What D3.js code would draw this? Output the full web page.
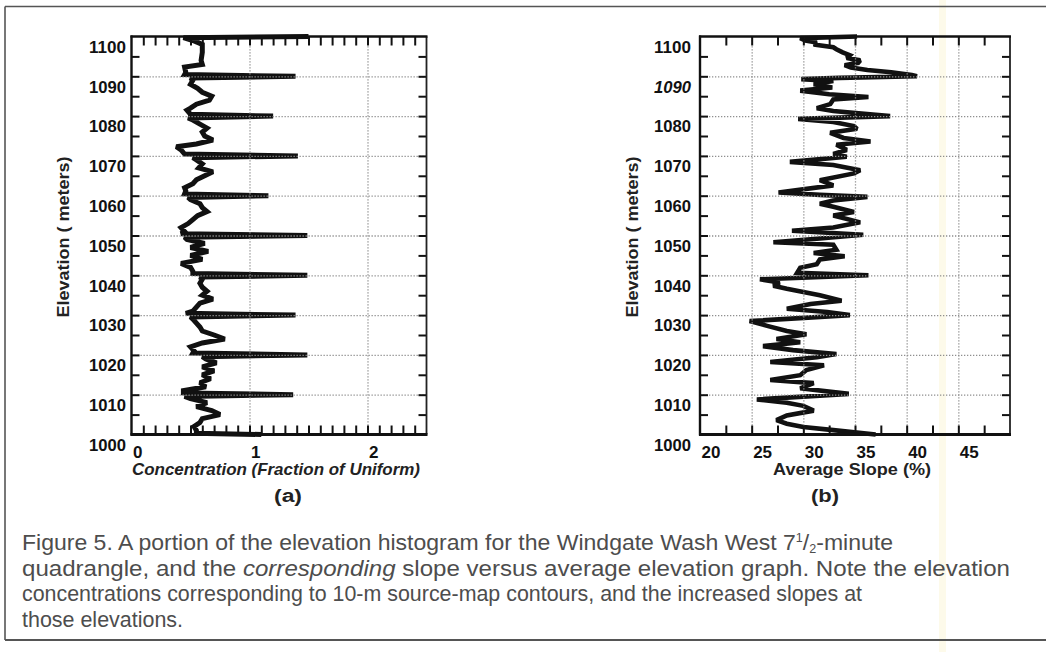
<!DOCTYPE html>
<html><head><meta charset="utf-8">
<script src="https://cdn.jsdelivr.net/npm/d3@7"></script>
<style>
body{margin:0;background:#fff;}
svg{display:block;font-family:"Liberation Sans",Arial,sans-serif;}
</style></head><body>
<svg id="c" width="1046" height="652"></svg>
<script>
// ---------- data ----------
const concElev = [1100,1099.7,1099,1098,1096,1094,1093,1092.3,1091,1090.45,1090,1089.55,1089,1088,1087,1086,1085,1084,1083,1082,1081.5,1080.45,1080,1079.55,1079,1078,1077,1076,1075,1074,1073,1072.3,1071.5,1070.45,1070,1069.55,1069,1068,1067,1066,1065,1064,1063,1062,1061.2,1060.45,1060,1059.55,1059,1058,1057,1056,1055,1054,1053,1052,1051,1050.45,1050,1049.55,1049,1048,1047,1046,1045,1044,1043,1042,1041,1040.45,1040,1039.55,1039,1038,1037,1036,1035,1034,1033,1032,1031,1030.45,1030,1029.55,1029,1028,1027,1026,1025,1024,1023,1022,1021,1020.45,1020,1019.55,1019,1018,1017,1016,1015,1014,1013,1012,1011,1010.45,1010,1009.55,1009,1008,1007,1006,1005,1004,1003,1002,1001,1000.3,1000];
const concVal  = [1.5,0.44,0.52,0.6,0.6,0.59,0.6,0.45,0.46,0.45,1.39,0.5,0.52,0.5,0.56,0.6,0.68,0.66,0.55,0.5,0.47,0.5,1.2,0.48,0.52,0.58,0.64,0.6,0.62,0.69,0.55,0.38,0.42,0.45,1.41,0.52,0.55,0.6,0.57,0.69,0.62,0.55,0.52,0.45,0.46,0.45,1.16,0.48,0.5,0.58,0.6,0.64,0.56,0.52,0.48,0.42,0.45,0.42,1.49,0.45,0.47,0.62,0.5,0.65,0.5,0.6,0.42,0.5,0.52,0.52,1.49,0.58,0.6,0.58,0.6,0.64,0.6,0.69,0.58,0.55,0.52,0.46,1.39,0.5,0.52,0.55,0.58,0.6,0.7,0.79,0.6,0.5,0.53,0.52,1.49,0.6,0.63,0.72,0.6,0.7,0.6,0.67,0.58,0.63,0.44,0.44,1.37,0.45,0.5,0.64,0.55,0.68,0.75,0.6,0.58,0.53,0.55,0.55,1.1];

const slopeElev = [1100,1099.6,1099,1098.5,1098,1097.3,1096.8,1096,1095.3,1094.6,1094,1093.4,1092.8,1092.2,1091.6,1091,1090.3,1090,1089.6,1089.3,1088.8,1088,1087.2,1086.4,1085.5,1084.8,1084.2,1083,1082,1081.3,1080.3,1080,1079.3,1078.5,1077.5,1076.8,1075.8,1074.5,1073.6,1072.8,1071.5,1070.5,1069.8,1068.5,1067.7,1066.4,1065.6,1063.9,1062.6,1060.8,1060.2,1059.7,1058.8,1058,1057.2,1055.9,1055,1053.3,1052,1051.2,1050.2,1049.2,1048.3,1047.7,1046.4,1045.6,1044.8,1044,1042.8,1041.9,1040.6,1040,1039,1038.2,1037.4,1036.6,1035.8,1035,1033.6,1032.8,1031.6,1030.8,1030,1028.5,1027.3,1026,1025.2,1024,1023.2,1022.2,1021.2,1020.2,1019.4,1018.2,1017.4,1016.2,1014.9,1013.7,1012.9,1011.6,1010.2,1008.8,1008,1007.2,1006,1004.8,1003.6,1002.7,1001.9,1001.1,1000];
const slopeVal  = [35.2,29.7,30.2,31.3,31.0,32.9,33.2,33.8,34.5,34.2,35.5,35.3,34.0,34.6,36.2,38.5,40.5,41.0,33.5,29.8,32.9,31.0,32.8,29.7,32.5,36.3,32.9,32.6,31.3,32.9,37.0,38.4,29.5,32.9,34.9,35.2,32.6,33.9,36.5,33.2,34.2,32.9,34.2,28.7,32.9,35.5,34.9,31.6,32.9,27.6,31.6,36.2,32.9,31.6,32.9,34.9,32.9,35.5,32.9,28.9,35.8,31.3,27.1,32.9,33.2,31.0,34.0,31.6,31.3,29.7,29.4,36.3,25.8,27.7,27.1,28.4,30.0,31.6,33.7,30.7,28.4,32.3,34.5,24.8,26.5,28.4,30.3,27.4,29.7,26.1,29.0,33.2,31.3,26.8,32.0,30.3,29.7,26.8,31.0,29.7,34.4,25.5,28.4,30.0,31.0,28.4,27.4,28.4,30.0,32.9,37.0];

const elevLabels = [1000,1010,1020,1030,1040,1050,1060,1070,1080,1090,1100];
const elevGrid = [1010,1020,1030,1040,1050,1060,1070,1080,1090];
const concLabels = [0,1,2];
const concGrid = [1,2];
const slopeLabels = [20,25,30,35,40,45];
const slopeGrid = [25,30,35,40,45];

const captionLines = [
  "Figure 5. A portion of the elevation histogram for the Windgate Wash West 7",
  "quadrangle, and the corresponding slope versus average elevation graph. Note the elevation",
  "concentrations corresponding to 10-m source-map contours, and the increased slopes at",
  "those elevations."
];

// ---------- drawing ----------
const svg = d3.select("#c");
svg.append("rect").attr("width",1046).attr("height",652).attr("fill","#fff");
// faint scan artifact strip
svg.append("rect").attr("x",939).attr("y",0).attr("width",7).attr("height",652).attr("fill","#fdfaea");

// frame
const fr = svg.append("g").attr("stroke","#555").attr("stroke-width",1.6).attr("fill","none");
fr.append("line").attr("x1",5).attr("x2",1046).attr("y1",6.5).attr("y2",6.5);
fr.append("line").attr("x1",5).attr("x2",5).attr("y1",6.5).attr("y2",640);
fr.append("line").attr("x1",5).attr("x2",1046).attr("y1",640).attr("y2",640).attr("stroke-width",2);

const Y0 = 434.5, Y1 = 36.5;
const y = d3.scaleLinear([1000,1100],[Y0,Y1]);
const FONT = "'Liberation Sans',Arial,sans-serif";

function panel(cfg){
  const g = svg.append("g");
  const x = d3.scaleLinear(cfg.domain,[cfg.x0,cfg.x1]);
  const W = cfg.x1-cfg.x0, H = Y0-Y1;
  const cid = "clip"+cfg.id;
  g.append("clipPath").attr("id",cid).append("rect")
    .attr("x",cfg.x0).attr("y",Y1-3).attr("width",W).attr("height",H+6);

  // data line
  const data = cfg.elev.map((e,i)=>[e,cfg.vals[i]]);
  g.append("path").datum(data).attr("clip-path",`url(#${cid})`)
    .attr("fill","none").attr("stroke","#111").attr("stroke-width",cfg.lw)
    .attr("stroke-linejoin","miter").attr("stroke-miterlimit",2)
    .attr("d",d3.line().x(d=>x(d[1])).y(d=>y(d[0])));

  // grid (dotted)
  const gx = g.append("g").attr("transform",`translate(0,${Y0})`)
    .call(d3.axisBottom(x).tickValues(cfg.grid).tickSize(-H).tickFormat(""));
  const gy = g.append("g").attr("transform",`translate(${cfg.x0},0)`)
    .call(d3.axisLeft(y).tickValues(elevGrid).tickSize(-W).tickFormat(""));
  [gx,gy].forEach(s=>{
    s.select(".domain").remove();
    s.selectAll("line").attr("stroke","#8f8f8f").attr("stroke-width",1.3).attr("stroke-dasharray","1.3,1.7");
  });

  // minor ticks
  const tk = (sel)=>{sel.select(".domain").remove(); sel.selectAll("line").attr("stroke","#111").attr("stroke-width",2);};
  g.append("g").attr("transform",`translate(0,${Y0})`)
    .call(d3.axisBottom(x).tickValues(cfg.minor).tickSize(-9).tickFormat("")).call(tk);
  g.append("g").attr("transform",`translate(0,${Y1})`)
    .call(d3.axisTop(x).tickValues(cfg.minor).tickSize(-9).tickFormat("")).call(tk);
  const yMinor = d3.range(1005,1100,5);
  g.append("g").attr("transform",`translate(${cfg.x0},0)`)
    .call(d3.axisLeft(y).tickValues(yMinor).tickSize(-8).tickFormat("")).call(tk);
  g.append("g").attr("transform",`translate(${cfg.x1},0)`)
    .call(d3.axisRight(y).tickValues(yMinor).tickSize(-8).tickFormat("")).call(tk);

  // frame
  g.append("line").attr("x1",cfg.x1).attr("x2",cfg.x1).attr("y1",Y1).attr("y2",Y0).attr("stroke","#222").attr("stroke-width",1.8);
  g.append("line").attr("x1",cfg.x0).attr("x2",cfg.x0).attr("y1",Y1-1).attr("y2",Y0+1).attr("stroke","#111").attr("stroke-width",2.4);
  g.append("line").attr("x1",cfg.x0-1).attr("x2",cfg.x1+1).attr("y1",Y1).attr("y2",Y1).attr("stroke","#111").attr("stroke-width",2.6);
  g.append("line").attr("x1",cfg.x0-1).attr("x2",cfg.x1+1).attr("y1",Y0).attr("y2",Y0).attr("stroke","#111").attr("stroke-width",2.8);

  // y labels
  const yl = g.append("g").attr("transform",`translate(${cfg.x0},0)`)
    .call(d3.axisLeft(y).tickValues(elevLabels).tickSize(0).tickPadding(cfg.ypad).tickFormat(d3.format("d")));
  yl.select(".domain").remove();
  yl.selectAll("text").attr("dy","0.93em").attr("font-size",17).attr("font-weight","bold")
    .attr("textLength",37).attr("lengthAdjust","spacingAndGlyphs")
    .attr("font-family",FONT).attr("fill","#111")
    .attr("font-style",d=>cfg.italicY && cfg.italicY.includes(d)?"italic":"normal");

  // x labels
  const xl = g.append("g").attr("transform",`translate(0,${Y0})`)
    .call(d3.axisBottom(x).tickValues(cfg.labels).tickSize(0).tickPadding(11).tickFormat(d3.format("d")));
  xl.select(".domain").remove();
  xl.selectAll("text").attr("text-anchor","start").attr("dx",1).attr("font-size",17).attr("font-weight","bold")
    .attr("font-family",FONT).attr("fill","#111");

  // titles
  g.append("text").attr("x",cfg.titleX).attr("y",475).attr("text-anchor","middle")
    .attr("font-size",17).attr("font-weight","bold").attr("font-style",cfg.titleItalic?"italic":"normal")
    .attr("textLength",cfg.titleLen).attr("lengthAdjust","spacingAndGlyphs").attr("fill","#222")
    .text(cfg.title);
  g.append("text").attr("transform",`translate(${cfg.yTitleX},237) rotate(-90)`).attr("text-anchor","middle")
    .attr("font-size",17).attr("font-weight","bold").attr("fill","#222")
    .attr("textLength",161).attr("lengthAdjust","spacingAndGlyphs")
    .text("Elevation  ( meters)");
  g.append("text").attr("x",cfg.tagX).attr("y",502).attr("text-anchor","middle")
    .attr("font-size",18).attr("font-weight","bold").attr("fill","#222")
    .attr("textLength",28).attr("lengthAdjust","spacingAndGlyphs").text(cfg.tag);
}

panel({id:"a",domain:[0,2.5],x0:131.5,x1:426.5,elev:concElev,vals:concVal,grid:concGrid,lw:5,
  minor:d3.range(1,25).map(i=>i/10),labels:concLabels,ypad:5.5,
  title:"Concentration (Fraction of Uniform)",titleItalic:true,titleX:276,titleLen:288,
  yTitleX:69,tag:"(a)",tagX:288});
panel({id:"b",domain:[20,50],x0:700,x1:1010,elev:slopeElev,vals:slopeVal,grid:slopeGrid,lw:4.6,
  minor:d3.range(1,12).map(i=>20+i*2.5),labels:slopeLabels,ypad:9,italicY:[1090],
  title:"Average Slope (%)",titleItalic:false,titleX:852,titleLen:158,
  yTitleX:638,tag:"(b)",tagX:825});

// caption
const cap = svg.append("g").attr("font-size",22).attr("fill","#4d4d4d")
  .attr("font-family","'Liberation Sans Narrow','Liberation Sans',Arial,sans-serif");
const base = [550,575.5,601,626.5];
const lens = [871,988,840,161];
const t1 = cap.append("text").attr("x",22).attr("y",base[0]).attr("textLength",lens[0]).attr("lengthAdjust","spacingAndGlyphs");
t1.append("tspan").text(captionLines[0]);
t1.append("tspan").attr("font-size",12).attr("dy",-8).text("1");
t1.append("tspan").attr("dy",8).text("/");
t1.append("tspan").attr("font-size",12).attr("dy",3).text("2");
t1.append("tspan").attr("dy",-3).text("-minute");
const t2 = cap.append("text").attr("x",22).attr("y",base[1]).attr("textLength",lens[1]).attr("lengthAdjust","spacingAndGlyphs");
const parts = captionLines[1].split("corresponding");
t2.append("tspan").text(parts[0]);
t2.append("tspan").attr("font-style","italic").text("corresponding");
t2.append("tspan").text(parts[1]);
cap.append("text").attr("x",22).attr("y",base[2]).attr("textLength",lens[2]).attr("lengthAdjust","spacingAndGlyphs").text(captionLines[2]);
cap.append("text").attr("x",22).attr("y",base[3]).attr("textLength",lens[3]).attr("lengthAdjust","spacingAndGlyphs").text(captionLines[3]);
</script>
</body></html>
